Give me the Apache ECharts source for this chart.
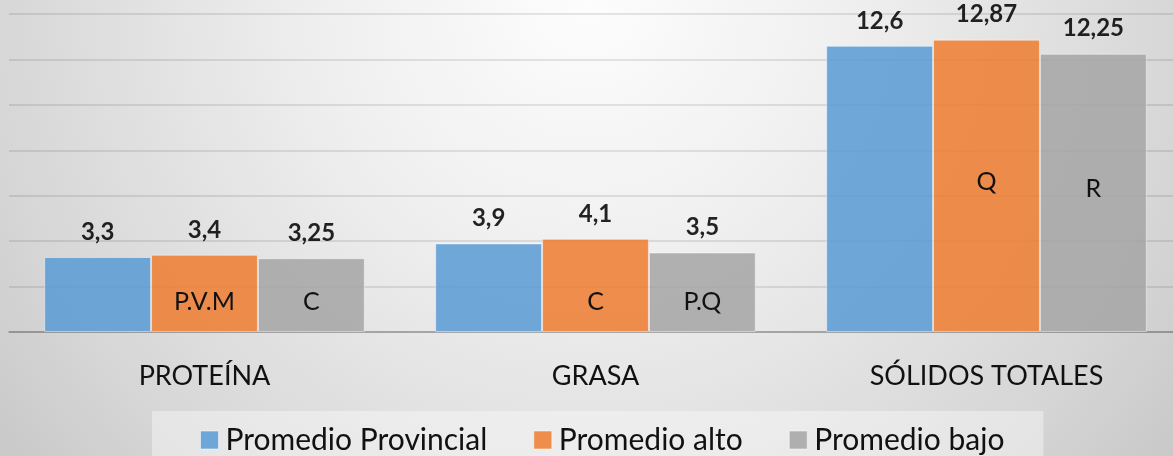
<!DOCTYPE html>
<html>
<head>
<meta charset="utf-8">
<script src="https://cdn.jsdelivr.net/npm/echarts@6/dist/echarts.min.js"></script>
<style>
html,body{margin:0;padding:0;}
#c{width:1173px;height:456px;}
</style>
</head>
<body>
<div id="c"></div>
<script>
const categories = ['PROTEÍNA', 'GRASA', 'SÓLIDOS TOTALES'];
const provincial = [3.3, 3.9, 12.6];
const alto = [3.4, 4.1, 12.87];
const bajo = [3.25, 3.5, 12.25];
const altoNotes = ['P.V.M', 'C', 'Q'];
const bajoNotes = ['C', 'P.Q', 'R'];
const seriesNames = ['Promedio Provincial', 'Promedio alto', 'Promedio bajo'];

const FONT = 'Lato';
const fmt = p => String(p.value).replace('.', ',');

const chart = echarts.init(document.getElementById('c'));

function barSeries(name, data, color) {
  return {
    name: name,
    type: 'bar',
    xAxisIndex: 0,
    data: data,
    barGap: '0%',
    barCategoryGap: '18%',
    itemStyle: {color: color, opacity: 0.86, borderColor: 'rgba(255,255,255,0.55)', borderWidth: 1},
    label: {show: true, position: 'top', distance: 13, formatter: fmt,
      fontFamily: FONT, fontWeight: 'bold', fontSize: 24, color: '#000'},
    z: 2
  };
}
// annotation text inside the bars; tall bars get it near the middle, short ones near the base
function noteSeries(values, notes) {
  return {
    type: 'bar',
    xAxisIndex: 1,
    data: values.map((v, i) => ({
      value: v, note: notes[i],
      label: v > 8 ? {position: 'inside', offset: [0, -4]} : {position: 'insideBottom', distance: 18}
    })),
    barGap: '0%',
    barCategoryGap: '18%',
    itemStyle: {color: 'rgba(0,0,0,0)'},
    label: {show: true, formatter: p => p.data.note,
      fontFamily: FONT, fontSize: 25, color: '#111'},
    silent: true,
    z: 3
  };
}

chart.setOption({
  backgroundColor: {
    type: 'radial', x: 0.5, y: 0, r: 1.67,
    colorStops: [
      {offset: 0, color: '#fdfdfd'},
      {offset: 0.35, color: '#efefef'},
      {offset: 0.79, color: '#d6d6d6'},
      {offset: 1, color: '#c7c7c7'}
    ]
  },
  animation: false,
  grid: {left: 9, width: 1173, top: 14, bottom: 124, outerBoundsMode: 'none'},
  legend: {
    data: seriesNames,
    left: 152, top: 411,
    padding: [14, 39, 14, 48],
    backgroundColor: 'rgba(255,255,255,0.38)',
    itemWidth: 18, itemHeight: 18, itemGap: 46,
    icon: 'rect',
    itemStyle: {borderColor: 'rgba(255,255,255,0.6)', borderWidth: 1},
    textStyle: {fontFamily: FONT, fontSize: 30, color: '#111', padding: [0, 0, 0, 2]}
  },
  xAxis: [{
    type: 'category', data: categories,
    axisLine: {lineStyle: {color: 'rgba(0,0,0,0.28)', width: 1.5}},
    axisTick: {show: false},
    axisLabel: {fontFamily: FONT, fontSize: 27, color: '#111', margin: 31}
  }, {
    type: 'category', data: categories, show: false
  }],
  yAxis: {
    type: 'value', min: 0, max: 14, interval: 2,
    axisLabel: {show: false},
    axisLine: {show: false}, axisTick: {show: false},
    splitLine: {lineStyle: {color: 'rgba(0,0,0,0.13)', width: 1.5}}
  },
  series: [
    barSeries(seriesNames[0], provincial, '#5B9BD5'),
    barSeries(seriesNames[1], alto, '#ED7D31'),
    barSeries(seriesNames[2], bajo, '#A5A5A5'),
    noteSeries(provincial, ['', '', '']),
    noteSeries(alto, altoNotes),
    noteSeries(bajo, bajoNotes)
  ]
});
</script>
</body>
</html>
